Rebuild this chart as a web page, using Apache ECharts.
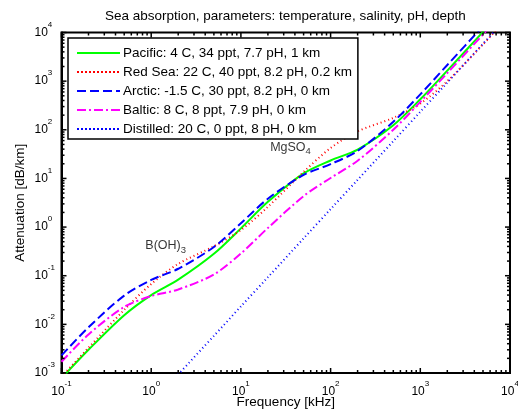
<!DOCTYPE html>
<html>
<head>
<meta charset="utf-8">
<script src="https://cdn.jsdelivr.net/npm/echarts@6/dist/echarts.min.js"></script>
<style>
html,body{margin:0;padding:0;background:#fff;}
#c{width:518px;height:419px;}
</style>
</head>
<body>
<div id="c"></div>
<script>
// Frequencies in kHz
var freq = [0.1, 0.2, 0.5, 1, 2, 5, 10, 20, 50, 100, 200, 500, 1000, 2000, 5000, 10000];
// Attenuation in dB/km
var pacific  = [0.00078, 0.0030, 0.0154, 0.040, 0.083, 0.282, 0.94, 3.3, 12.7, 23.4, 39.2, 124, 423, 1650, 10300, 41000];
var redSea   = [0.00084, 0.0033, 0.0198, 0.0675, 0.175, 0.403, 0.87, 2.61, 13.6, 42.2, 92.8, 176, 345, 1000, 5700, 22500];
var arctic   = [0.0023, 0.0087, 0.039, 0.082, 0.139, 0.389, 1.20, 3.83, 11.8, 19.7, 36.8, 146, 535, 2150, 13500, 54000];
var baltic   = [0.0017, 0.0062, 0.0228, 0.0382, 0.0521, 0.106, 0.286, 0.96, 4.33, 10.2, 23.1, 100, 374, 1467, 9120, 36400];
var distilled= [0.0000023, 0.0000093, 0.000058, 0.00023, 0.00093, 0.0058, 0.0234, 0.093, 0.584, 2.34, 9.34, 58.4, 234, 934, 5840, 23400];

var seriesNames = [
  'Pacific: 4 C, 34 ppt, 7.7 pH, 1 km',
  'Red Sea: 22 C, 40 ppt, 8.2 pH, 0.2 km',
  'Arctic: -1.5 C, 30 ppt, 8.2 pH, 0 km',
  'Baltic: 8 C, 8 ppt, 7.9 pH, 0 km',
  'Distilled: 20 C, 0 ppt, 8 pH, 0 km'
];
var seriesValues = [pacific, redSea, arctic, baltic, distilled];

var xMin = 0.1, xMax = 10000, yMin = 0.001, yMax = 10000;

// annotation texts and their data positions
var annotations = [
  {name: 'B(OH)', sub: '3', f: 0.86, a: 0.42},
  {name: 'MgSO', sub: '4', f: 21.2, a: 43.5}
];

var FONT = 'Liberation Sans, Arial, sans-serif';
var BIG = 13.5;

function pairs(vals) {
  return freq.map(function (f, i) { return [f, vals[i]]; });
}

var styles = [
  {color: '#00ff00', type: 'solid'},
  {color: '#ff0000', type: [1, 3]},
  {color: '#0000ff', type: [9, 4]},
  {color: '#ff00ff', type: [9, 3, 2, 3]},
  {color: '#0000ff', type: [1, 3]}
];

// tick data for custom series
var tickData = [];
for (var e = -1; e <= 3; e++) {
  for (var m = 1; m <= 9; m++) {
    tickData.push([m * Math.pow(10, e), yMin, 0, m === 1 ? 5 : 3]);
  }
}
tickData.push([xMax, yMin, 0, 5]);
for (var e2 = -3; e2 <= 3; e2++) {
  for (var m2 = 1; m2 <= 9; m2++) {
    tickData.push([xMin, m2 * Math.pow(10, e2), 1, m2 === 1 ? 5 : 3]);
  }
}
tickData.push([xMin, yMax, 1, 5]);

function supLabel(v) {
  var ex = Math.round(Math.log10(v));
  return '{b|10}{s|' + ex + '}';
}
var richSup = {
  b: {fontSize: 12, lineHeight: 12, fontFamily: FONT, color: '#000'},
  s: {fontSize: 8, lineHeight: 8, padding: [0, 0, 16, 0], fontFamily: FONT, color: '#000'}
};

var series = seriesNames.map(function (n, i) {
  return {
    name: n,
    type: 'line',
    data: pairs(seriesValues[i]),
    showSymbol: false,
    symbol: 'none',
    smooth: 0.3,
    clip: true,
    lineStyle: {color: styles[i].color, width: 2, type: styles[i].type},
    itemStyle: {color: styles[i].color},
    z: 3
  };
});

series.push({
  type: 'custom',
  name: 'ticks',
  silent: true,
  clip: false,
  data: tickData,
  z: 5,
  renderItem: function (params, api) {
    var kind = api.value(2), len = api.value(3);
    if (kind === 0) {
      var v = api.value(0);
      var pb = api.coord([v, yMin]);
      var pt = api.coord([v, yMax]);
      return {type: 'group', children: [
        {type: 'line', shape: {x1: pb[0], y1: pb[1], x2: pb[0], y2: pb[1] - len}, style: {stroke: '#000', lineWidth: 1.5}},
        {type: 'line', shape: {x1: pt[0], y1: pt[1], x2: pt[0], y2: pt[1] + len}, style: {stroke: '#000', lineWidth: 1.5}}
      ]};
    } else {
      var w = api.value(1);
      var pl = api.coord([xMin, w]);
      var pr = api.coord([xMax, w]);
      return {type: 'group', children: [
        {type: 'line', shape: {x1: pl[0], y1: pl[1], x2: pl[0] + len, y2: pl[1]}, style: {stroke: '#000', lineWidth: 1.5}},
        {type: 'line', shape: {x1: pr[0], y1: pr[1], x2: pr[0] - len, y2: pr[1]}, style: {stroke: '#000', lineWidth: 1.5}}
      ]};
    }
  }
});

series.push({
  type: 'scatter',
  name: 'annot',
  silent: true,
  symbolSize: 0,
  data: annotations.map(function (a) {
    return {
      value: [a.f, a.a],
      label: {
        show: true,
        position: 'right',
        distance: 0,
        formatter: '{n|' + a.name + '}{u|' + a.sub + '}',
        rich: {
          n: {fontSize: 12.5, lineHeight: 12, fontFamily: FONT, color: '#000'},
          u: {fontSize: 9.5, lineHeight: 9, padding: [9, 0, 0, 0], fontFamily: FONT, color: '#000'}
        }
      }
    };
  }),
  z: 6
});

var legendData = seriesNames.map(function (n, i) {
  var t = styles[i].type;
  return {
    name: n,
    itemStyle: {color: 'rgba(0,0,0,0)', borderWidth: 0, opacity: 0},
    lineStyle: {color: styles[i].color, type: (t[0] === 1 ? 'dotted' : t), width: 2, opacity: 1}
  };
});

var chart = echarts.init(document.getElementById('c'), null, {renderer: 'canvas'});
chart.setOption({
  animation: false,
  backgroundColor: '#fff',
  title: {
    text: 'Sea absorption, parameters: temperature, salinity, pH, depth',
    left: 105,
    top: 9,
    padding: 0,
    textStyle: {fontSize: BIG, fontWeight: 'normal', color: '#000', fontFamily: FONT}
  },
  grid: {
    left: 61.5, top: 32.5, width: 448.5, height: 340.5,
    show: true, borderColor: '#000', borderWidth: 2, backgroundColor: 'transparent',
    containLabel: false,
    outerBoundsMode: 'none'
  },
  legend: {
    data: legendData,
    orient: 'vertical',
    left: 68,
    top: 38,
    padding: [8, 6, 3, 8],
    itemWidth: 43,
    itemHeight: 12,
    itemGap: 5,
    borderColor: '#000',
    borderWidth: 1.5,
    backgroundColor: '#fff',
    textStyle: {fontSize: BIG, lineHeight: 12, color: '#000', fontFamily: FONT, padding: [0, 0, 0, -2]},
    selectedMode: false
  },
  xAxis: {
    type: 'log',
    logBase: 10,
    min: xMin,
    max: xMax,
    splitNumber: 5,
    name: 'Frequency [kHz]',
    nameLocation: 'middle',
    nameGap: 22,
    nameMoveOverlap: false,
    nameTextStyle: {fontSize: BIG, color: '#000', fontFamily: FONT},
    axisLine: {show: true, lineStyle: {color: '#000', width: 2}},
    axisTick: {show: false},
    minorTick: {show: false},
    splitLine: {show: false},
    axisLabel: {
      margin: 13,
      formatter: supLabel,
      rich: richSup,
      color: '#000',
      showMinLabel: true,
      showMaxLabel: true
    }
  },
  yAxis: {
    type: 'log',
    logBase: 10,
    min: yMin,
    max: yMax,
    splitNumber: 7,
    name: 'Attenuation [dB/km]',
    nameLocation: 'middle',
    nameGap: 34,
    nameMoveOverlap: false,
    nameRotate: 90,
    nameTextStyle: {fontSize: BIG, color: '#000', fontFamily: FONT},
    axisLine: {show: true, lineStyle: {color: '#000', width: 2}},
    axisTick: {show: false},
    minorTick: {show: false},
    splitLine: {show: false},
    axisLabel: {
      margin: 27,
      align: 'left',
      formatter: supLabel,
      rich: richSup,
      color: '#000',
      showMinLabel: true,
      showMaxLabel: true
    }
  },
  series: series
});
</script>
</body>
</html>
